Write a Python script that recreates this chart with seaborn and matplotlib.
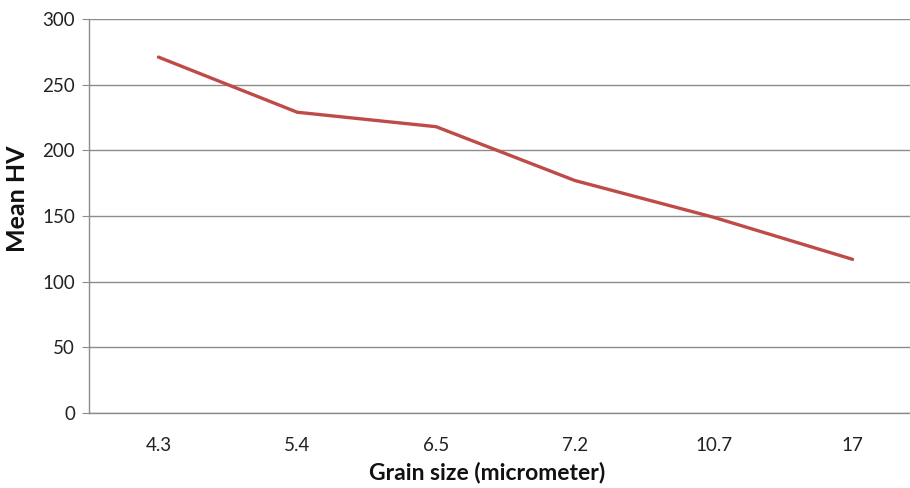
import matplotlib
matplotlib.use("Agg")
import matplotlib.pyplot as plt
import seaborn as sns
from matplotlib.ticker import FixedLocator

# ── Data ──────────────────────────────────────────────
grain_sizes = ["4.3", "5.4", "6.5", "7.2", "10.7", "17"]
mean_hv = [271, 229, 218, 177, 149, 117]

sns.set_style("white")
plt.rcParams['font.family'] = ['Lato', 'DejaVu Sans']

fig = plt.figure(figsize=(9.10, 4.88), dpi=100)
# axes run past the right edge, as in the cropped original
ax = fig.add_axes([89 / 910, 75 / 488, 833 / 910, 394 / 488])

sns.pointplot(x=grain_sizes, y=mean_hv, order=grain_sizes, color="#BE4B48",
              markers="", linewidth=2.4, errorbar=None, ax=ax)

ax.set_xlim(-0.5, len(grain_sizes) - 0.5)
ax.set_ylim(0, 300)
ax.set_yticks(range(0, 301, 50))
ax.yaxis.grid(True, color="#8c8c8c", linewidth=1.0)
ax.set_axisbelow(True)

for side in ["top", "right"]:
    ax.spines[side].set_visible(False)
for side in ["left", "bottom"]:
    ax.spines[side].set_color("#8c8c8c")
    ax.spines[side].set_linewidth(1.0)

# category ticks sit between the categories
ax.xaxis.set_minor_locator(FixedLocator([i - 0.5 for i in range(len(grain_sizes) + 1)]))
ax.tick_params(axis="x", which="major", length=0, pad=17, labelsize=13.5, labelcolor="#222222")
ax.tick_params(axis="x", which="minor", length=5, color="#8c8c8c", direction="out")
ax.tick_params(axis="y", which="major", length=5, color="#8c8c8c", direction="out",
               labelsize=13.5, labelcolor="#222222", left=True, pad=5)

ax.set_xlabel("Grain size (micrometer)", fontsize=16.5, fontweight="bold", color="#111111")
ax.set_ylabel("Mean HV", fontsize=18, fontweight="bold", color="#111111")
ax.xaxis.set_label_coords(0.478, -0.15)
ax.yaxis.set_label_coords(-0.086, 0.543)
ax.xaxis.label.set_va("center")
ax.yaxis.label.set_va("center")

plt.savefig("out.png", dpi=100)
